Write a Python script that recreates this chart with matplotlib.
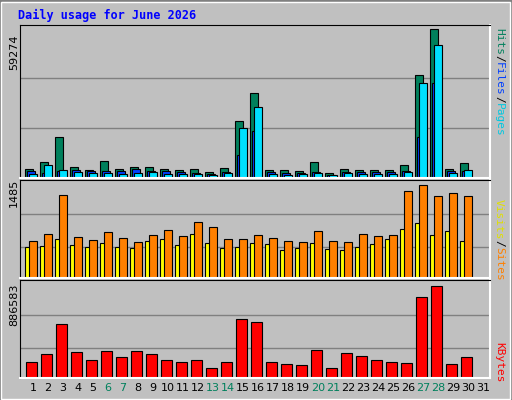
import matplotlib
matplotlib.use("Agg")
import matplotlib.pyplot as plt
import numpy as np

days = list(range(1, 32))
weekend = [6, 7, 13, 14, 20, 21, 27, 28]
hits = [3750, 6170, 16230, 4560, 3350, 6570, 3750, 4560, 4560, 3750, 3350, 3750, 2550, 4160, 22660, 33530, 3350, 3350, 2950, 6170, 2150, 3750, 3350, 3350, 3350, 4960, 40770, 59274, 3750, 5770]
files = [1740, 4960, 3350, 2550, 2150, 2150, 1740, 2150, 2550, 1740, 1740, 1740, 1340, 2150, 19850, 28300, 1740, 1340, 1740, 2150, 1340, 2150, 1740, 1740, 1740, 2550, 37550, 52840, 2150, 3350]
pages = [2950, 2150, 2950, 3350, 2950, 2950, 2950, 3750, 2950, 2950, 2550, 2150, 1740, 2550, 8990, 18640, 2550, 2150, 2150, 2550, 1340, 2550, 2550, 2550, 2550, 2950, 16230, 37550, 2950, 2950]
visits = [584, 697, 1324, 649, 600, 729, 633, 568, 681, 761, 665, 890, 809, 617, 617, 681, 633, 584, 568, 745, 584, 568, 697, 665, 681, 1389, 1485, 1308, 1356, 1308]
sites = [488, 504, 617, 520, 488, 552, 488, 472, 584, 617, 520, 697, 552, 472, 488, 552, 536, 440, 472, 552, 456, 440, 488, 536, 617, 777, 874, 681, 745, 584]
kbytes = [158550, 226500, 517700, 245900, 168250, 255600, 197400, 255600, 226500, 168250, 158550, 168250, 100300, 158550, 566200, 537100, 158550, 139100, 129400, 265300, 100300, 236200, 207100, 168250, 158550, 148800, 779800, 886583, 139100, 197400]

W, H = 512, 400
fig = plt.figure(figsize=(W/100, H/100), dpi=100)
fig.patch.set_facecolor("#C0C0C0")
from matplotlib.patches import Rectangle
# bevel
fig.add_artist(Rectangle((0, 0), 1, 1, transform=fig.transFigure, fill=False, ec="#808080", lw=2))
fig.add_artist(Rectangle((1/W, 1/H), 1-3/W, 1-3/H, transform=fig.transFigure, fill=False, ec="white", lw=1))

def ax_at(x0, y0, x1, y1):
    ax = fig.add_axes([x0/W, 1-y1/H, (x1-x0)/W, (y1-y0)/H])
    ax.set_facecolor("#C0C0C0")
    ax.set_xlim(0.133, 31.47)
    ax.set_xticks([]); ax.set_yticks([])
    for s in ("left", "top"):
        ax.spines[s].set_color("black")
    for s in ("right", "bottom"):
        ax.spines[s].set_color("white")
        ax.spines[s].set_linewidth(1.5)
    return ax

d = np.array(days[:len(hits)])
ekw = dict(edgecolor="black", linewidth=0.8, align="edge")

ax1 = ax_at(20, 25, 490, 178)
mx = max(hits)
ax1.set_ylim(0, mx * 151/147.5)
for f in (1/3, 2/3):
    ax1.axhline(mx*f, color="#808080", lw=1, zorder=0)
ax1.bar(d-0.533, hits, 0.533, color="#00805C", **ekw)
ax1.bar(d-0.4, pages, 0.533, color="#0040FF", **ekw)
ax1.bar(d-0.267, files, 0.533, color="#00E0FF", **ekw)

ax2 = ax_at(20, 180, 490, 278)
mv = max(visits)
ax2.set_ylim(0, mv * 97/92.3)
for f in (91/277, 190/277):
    ax2.axhline(mv*f, color="#808080", lw=1, zorder=0)
ax2.bar(d-0.533, sites, 0.31, color="#FFFF00", **ekw)
ax2.bar(d-0.267, visits, 0.533, color="#FF8000", **ekw)

ax3 = ax_at(20, 280, 490, 378)
mk = max(kbytes)
ax3.set_ylim(0, mk * 97/91.3)
for f in (88/274, 187/274):
    ax3.axhline(mk*f, color="#808080", lw=1, zorder=0)
ax3.bar(d-0.467, kbytes, 0.71, color="#FF0000", **ekw)

fig.text(18/W, 1-15/H, "Daily usage for June 2026", color="#0000FF", family="DejaVu Sans Mono",
         weight="bold", fontsize=8.5, va="center", ha="left")

for y, lab in ((52, str(max(hits))), (193, str(max(visits))), (305, str(max(kbytes)))):
    fig.text(14/W, 1-y/H, lab, rotation=90, fontsize=8, va="center", ha="center", family="DejaVu Sans")

def right_label(ycenter, parts):
    # parts list top-to-bottom
    total = sum(len(p) for p, c in parts)
    ch = 6.8
    y = ycenter - total*ch/2
    for p, c in parts:
        n = len(p)
        fig.text(499/W, 1-(y+n*ch/2)/H, p, rotation=270, color=c, fontsize=8, va="center", ha="center",
                 family="DejaVu Sans Mono")
        y += n*ch

right_label(82, [("Hits", "#00805C"), ("/", "black"), ("Files", "#0040FF"), ("/", "black"), ("Pages", "#00C8E0")])
right_label(240, [("Visits", "#E0E000"), ("/", "black"), ("Sites", "#FF8000")])
right_label(362, [("KBytes", "#FF0000")])

for day in days:
    fig.text((33+15*(day-1))/W, 1-388/H, str(day), fontsize=8, ha="center", va="center",
             color="#00805C" if day in weekend else "black", family="DejaVu Sans")

fig.savefig("out.png", dpi=100, facecolor=fig.get_facecolor())
